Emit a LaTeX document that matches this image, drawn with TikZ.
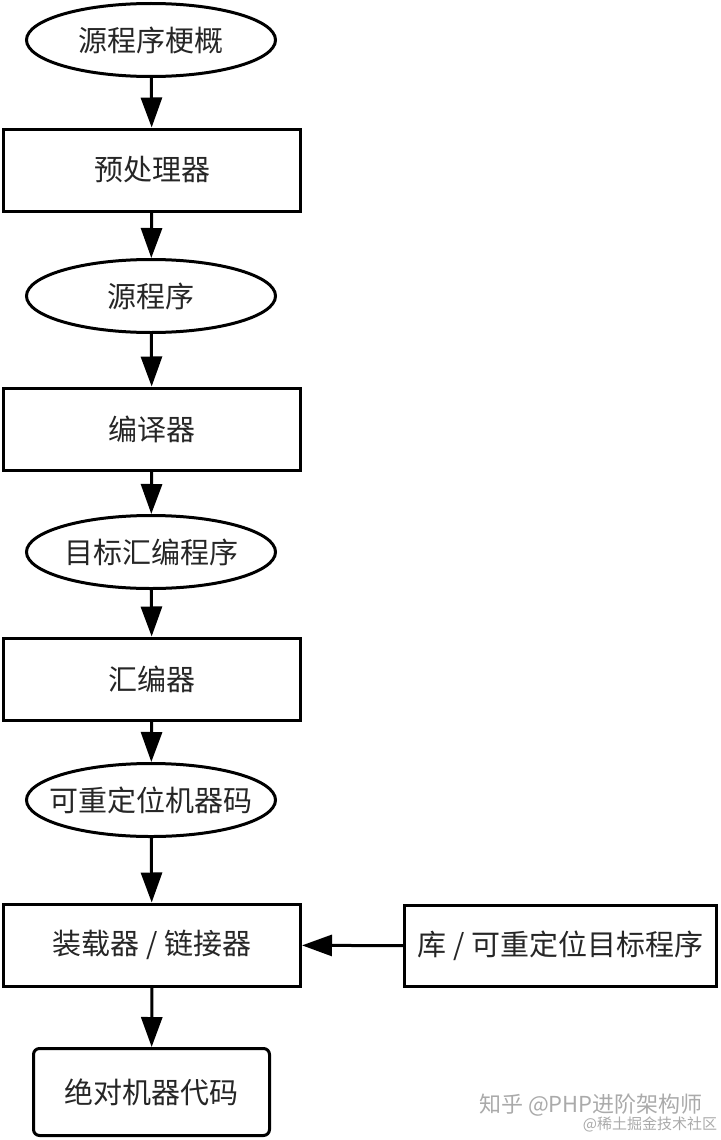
\documentclass[tikz,border=0pt]{standalone}
\usepackage{fontspec}
\newfontfamily\cjk{Noto Sans CJK SC}
\usetikzlibrary{shapes.geometric,arrows.meta}
\definecolor{wm}{HTML}{AAAAAA}
\newcommand{\ovtext}[1]{\makebox[0pt][c]{#1}}
\tikzset{
  base/.style={draw=black, line width=3pt, fill=white, inner sep=0pt, font=\cjk\fontsize{29}{34}\selectfont, text=black!85},
  ovalnode/.style={base, ellipse, minimum width=249pt, minimum height=73pt},
  boxnode/.style={base, rectangle, minimum width=297pt, minimum height=82pt},
  flow/.style={line width=3pt, -{Triangle[length=30pt,width=21pt]}},
}
\begin{document}
\begin{tikzpicture}[x=1pt,y=-1pt]
\useasboundingbox (0,0) rectangle (720,1140);
\node[ovalnode] (e1) at (151,40) {\ovtext{源程序梗概}};
\node[boxnode]  (b1) at (152,170) {预处理器};
\node[ovalnode] (e2) at (151,296) {\ovtext{源程序}};
\node[boxnode]  (b2) at (152,429) {编译器};
\node[ovalnode] (e3) at (151,552) {\ovtext{目标汇编程序}};
\node[boxnode]  (b3) at (152,679) {汇编器};
\node[ovalnode] (e4) at (151,800) {\ovtext{可重定位机器码}};
\node[boxnode]  (b4) at (152,945) {装载器 / 链接器};
\node[base, rectangle, rounded corners=6pt, minimum width=236pt, minimum height=87pt] (b5) at (151.5,1092) {绝对机器代码};
\node[base, rectangle, minimum width=312pt, minimum height=81pt] (rb) at (560.5,946) {库 / 可重定位目标程序};
\draw[flow] (e1) -- (b1);
\draw[flow] (b1) -- (e2);
\draw[flow] (e2) -- (b2);
\draw[flow] (b2) -- (e3);
\draw[flow] (e3) -- (b3);
\draw[flow] (b3) -- (e4);
\draw[flow] (e4) -- (b4);
\draw[flow] (b4) -- (b5);
\draw[flow] (rb) -- (b4);
\node[font=\cjk\fontsize{22}{26}\selectfont, text=wm, anchor=center] (wm1) at (591,1105) {知乎 @PHP进阶架构师};
\node[font=\cjk\fontsize{15}{18}\selectfont, text=wm, anchor=center] (wm2) at (650,1124) {@稀土掘金技术社区};
\end{tikzpicture}
\end{document}
